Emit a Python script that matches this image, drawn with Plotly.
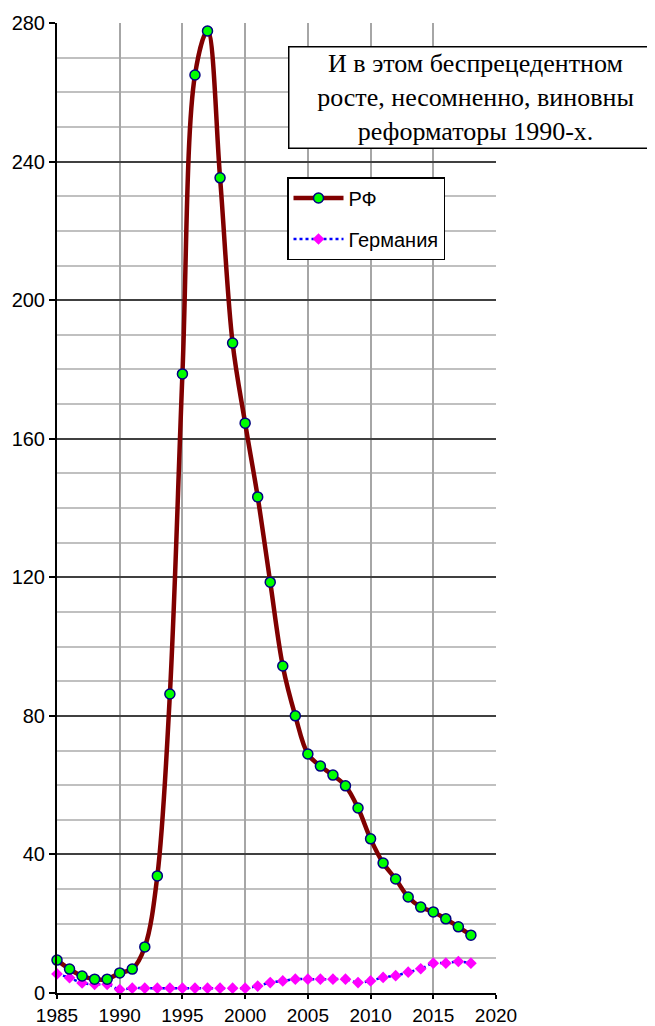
import plotly.graph_objects as go

years = list(range(1985, 2019))
rf = [9.5, 6.9, 4.9, 4.0, 4.0, 5.8, 6.9, 13.3, 33.8, 86.3, 178.7, 265.0, 277.7,
      235.3, 187.6, 164.5, 143.2, 118.6, 94.4, 80.0, 69.0, 65.5, 62.9, 59.8,
      53.4, 44.5, 37.5, 32.9, 27.7, 24.8, 23.4, 21.4, 19.1, 16.7]
germany = [5.5, 4.4, 2.9, 2.5, 2.5, 1.0, 1.4, 1.4, 1.4, 1.4, 1.4, 1.4, 1.4,
           1.4, 1.4, 1.4, 2.0, 3.0, 3.5, 4.0, 4.0, 4.0, 4.0, 4.0, 3.0, 3.5,
           4.5, 5.0, 6.0, 7.0, 8.6, 8.6, 9.1, 8.6]
x_ticks = [1985, 1990, 1995, 2000, 2005, 2010, 2015, 2020]
y_ticks = [0, 40, 80, 120, 160, 200, 240, 280]
note = "И в этом беспрецедентном<br>росте, несомненно, виновны<br>реформаторы 1990-х."

# page has an 8px body margin; figure sized so that it fits the window
W, H = 647, 1018
L, R, T, B = 49, 159, 15, 33
pw = W - L - R
ph = H - T - B

def px_x(p):  # window pixel -> paper fraction
    return (p - 8 - L) / pw

def px_y(p):
    return (H - B - (p - 8)) / ph

fig = go.Figure()
fig.add_trace(go.Scatter(
    x=years, y=germany, name="Германия", mode="lines+markers",
    line=dict(color="#0000ff", width=2.5, dash="dot", shape="spline"),
    marker=dict(symbol="diamond", color="#ff00ff", size=9),
    legendgroup="g", legendrank=2, cliponaxis=False,
))
fig.add_trace(go.Scatter(
    x=years, y=rf, name="РФ", mode="lines+markers",
    line=dict(color="#800000", width=4.5, shape="spline", smoothing=1.0),
    marker=dict(symbol="circle", color="#00ff00", size=10,
                line=dict(color="#000080", width=1.5)),
    legendgroup="r", legendrank=1, cliponaxis=False,
))

fig.update_layout(
    width=W, height=H,
    margin=dict(l=L, r=R, t=T, b=B, autoexpand=False),
    paper_bgcolor="white", plot_bgcolor="white",
    font=dict(family="Liberation Sans, Arial", size=20, color="black"),
    showlegend=True,
    legend=dict(
        x=px_x(287), y=px_y(177), xanchor="left", yanchor="top",
        bordercolor="black", borderwidth=1.5, bgcolor="white",
        font=dict(size=20, family="Liberation Sans, Arial"),
        tracegroupgap=12, traceorder="grouped", itemwidth=50,
    ),
    xaxis=dict(
        range=[1985, 2020], tickvals=x_ticks, ticks="outside", ticklen=4,
        tickcolor="black", tickwidth=1.5, showline=True, linecolor="black", linewidth=2,
        showgrid=True, gridcolor="#a6a6a6", gridwidth=2, zeroline=False,
        tickfont=dict(size=19), automargin=False,
    ),
    yaxis=dict(
        range=[0, 280], tickvals=y_ticks, ticks="outside", ticklen=6,
        tickcolor="black", tickwidth=1.5, showline=True, linecolor="black", linewidth=2,
        showgrid=True, gridcolor="#404040", gridwidth=1.5, zeroline=False,
        tickfont=dict(size=20), automargin=False,
        minor=dict(dtick=10, showgrid=True, gridcolor="#c0c0c0", gridwidth=2, ticks=""),
    ),
    annotations=[dict(
        x=px_x(288), y=px_y(46), xref="paper", yref="paper", text=note, showarrow=False,
        font=dict(family="Liberation Serif, Times New Roman", size=26, color="black"),
        bordercolor="black", borderwidth=1.5, bgcolor="white", borderpad=0,
        width=372, height=100,
        xanchor="left", yanchor="top", align="center",
    )],
)

fig.write_html("out.html")
